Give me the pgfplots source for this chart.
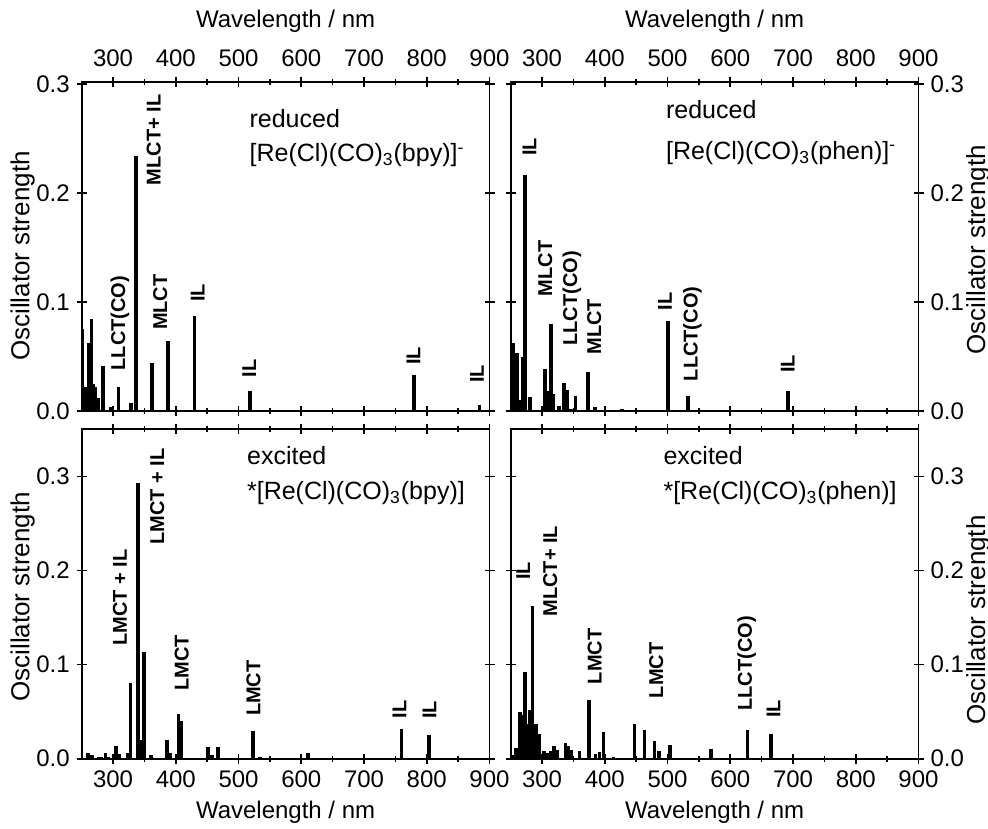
\documentclass[border=0pt]{standalone}
\usepackage{fontspec}
\setmainfont{Liberation Sans}
\usepackage{pgfplots}
\pgfplotsset{compat=1.18}
\pgfplotsset{
  panel/.style={
    scale only axis, width=203.9pt,
    xmin=250, xmax=900, ymin=0,
    xtick={300,400,...,900}, minor x tick num=1,
    ytick={0,0.1,0.2,0.3},
    /pgf/number format/assume math mode=true,
    yticklabel style={/pgf/number format/.cd, fixed, fixed zerofill, precision=1},
    xticklabel style={/pgf/number format/.cd, fixed, precision=0},
    tick align=center,
    major tick length=5pt, minor tick length=3pt,
    every tick/.style={black, line width=0.8pt},
    axis line style={line width=0.9pt},
    tick label style={font=\fontsize{12}{14}\selectfont},
    xlabel style={font=\fontsize{12}{14}\selectfont},
    clip mode=individual,
  },
  leftlab/.style={every axis y label/.style={at={(axis description cs:-0.145,#1)}, rotate=90, anchor=center, font=\fontsize{13}{15}\selectfont}},
  rightlab/.style={every axis y label/.style={at={(axis description cs:1.147,#1)}, rotate=90, anchor=center, font=\fontsize{13}{15}\selectfont}},
  bars/.style={ycomb, black, line width=1.8pt, mark=none},
}
\tikzset{
  lab/.style={font=\fontsize{10}{12}\selectfont\bfseries, rotate=90, anchor=west, inner sep=0pt},
  ann/.style={font=\fontsize{12.5}{15}\selectfont, anchor=base west, inner sep=0pt},
}
\begin{document}
\begin{tikzpicture}
\useasboundingbox (0,0) rectangle (494pt,414pt);

% ---------- top left: reduced bpy
\begin{axis}[panel, at={(40.85pt,208.5pt)}, anchor=south west, height=164.5pt, ymax=0.302,
  xticklabel pos=upper, xticklabel shift=1.5pt, xlabel style={yshift=2pt},
  leftlab=0.471, xlabel={Wavelength / nm}, ylabel={Oscillator strength}]
\addplot[bars] coordinates {
(251,0.075) (254,0.016) (257,0.022) (261,0.062) (265.5,0.084) (269,0.025) (272,0.022)
(277,0.012) (284,0.041) (297,0.004) (308.5,0.022) (329,0.007) (336.5,0.234) (348,0.001)
(362.5,0.044) (387.5,0.0645) (430,0.0875) (518.5,0.0186) (780,0.033) (884,0.0055)};
\node[lab] at (axis cs:311,0.037) {LLCT(CO)};
\node[lab] at (axis cs:365,0.207) {MLCT+ IL};
\node[lab] at (axis cs:375,0.074) {MLCT};
\node[lab] at (axis cs:435,0.100) {IL};
\node[lab] at (axis cs:517,0.0306) {IL};
\node[lab] at (axis cs:779,0.042) {IL};
\node[lab] at (axis cs:880,0.0257) {IL};
\node[ann] at (axis cs:517,0.2606) {reduced};
\node[ann] at (axis cs:517,0.2287) {[Re(Cl)(CO)\textsubscript{3}(bpy)]\textsuperscript{-}};
\end{axis}

% ---------- top right: reduced phen
\begin{axis}[panel, at={(255.35pt,208.5pt)}, anchor=south west, height=164.5pt, ymax=0.302,
  xticklabel pos=upper, xticklabel shift=1.5pt, xlabel style={yshift=2pt},
  yticklabel pos=right, rightlab=0.49, xlabel={Wavelength / nm}, ylabel={Oscillator strength}]
\addplot[bars] coordinates {
(251,0.035) (254,0.062) (259.6,0.053) (264,0.010) (268.6,0.050) (272.4,0.217) (281,0.013)
(291.6,0.001) (305,0.039) (310,0.018) (314,0.080) (318,0.016) (327,0.005) (335,0.026)
(339.6,0.019) (346,0.002) (353,0.0137) (373,0.0355) (384,0.004) (427.6,0.0015)
(500.6,0.0826) (533,0.0135) (691.6,0.0183)};
\node[lab] at (axis cs:280,0.234) {IL};
\node[lab] at (axis cs:305,0.105) {MLCT};
\node[lab] at (axis cs:347.6,0.0596) {LLCT(CO)};
\node[lab] at (axis cs:383,0.0514) {MLCT};
\node[lab] at (axis cs:496,0.092) {IL};
\node[lab] at (axis cs:539.6,0.027) {LLCT(CO)};
\node[lab] at (axis cs:691.5,0.0346) {IL};
\node[ann] at (axis cs:497,0.2685) {reduced};
\node[ann] at (axis cs:497,0.2312) {[Re(Cl)(CO)\textsubscript{3}(phen)]\textsuperscript{-}};
\end{axis}

% ---------- bottom left: excited bpy
\begin{axis}[panel, at={(40.85pt,34.65pt)}, anchor=south west, height=165pt, ymax=0.351,
  leftlab=0.49, xlabel={Wavelength / nm}, ylabel={Oscillator strength}]
\addplot[bars] coordinates {
(260.5,0.0064) (266,0.004) (276.5,0.002) (281,0.002) (288,0.0057) (293,0.002) (304.7,0.014)
(310,0.005) (324,0.006) (327.5,0.080) (339.3,0.293) (344,0.0198) (349.4,0.1134) (360.5,0.004)
(385.6,0.0198) (390.8,0.006) (404,0.048) (408,0.040) (420,0.001) (451.4,0.0128) (458,0.004)
(467,0.0128) (523,0.0294) (534,0.002) (610.4,0.006) (674.7,0.001) (760,0.032) (804,0.0255)};
\node[lab] at (axis cs:311,0.12) {LMCT + IL};
\node[lab] at (axis cs:370.6,0.227) {LMCT + IL};
\node[lab] at (axis cs:409.5,0.072) {LMCT};
\node[lab] at (axis cs:523.7,0.045) {LMCT};
\node[lab] at (axis cs:756.6,0.0425) {IL};
\node[lab] at (axis cs:804.5,0.042) {IL};
\node[ann] at (axis cs:513,0.313) {excited};
\node[ann] at (axis cs:513,0.276) {*[Re(Cl)(CO)\textsubscript{3}(bpy)]};
\end{axis}

% ---------- bottom right: excited phen
\begin{axis}[panel, at={(255.35pt,34.65pt)}, anchor=south west, height=165pt, ymax=0.351,
  yticklabel pos=right, rightlab=0.42, xlabel={Wavelength / nm}, ylabel={Oscillator strength}]
\addplot[bars] coordinates {
(253,0.004) (258.5,0.011) (265,0.050) (268.6,0.046) (272.4,0.0925) (276.6,0.037) (280.4,0.052)
(284.6,0.162) (290,0.037) (295.8,0.026) (303,0.008) (308,0.006) (314,0.008) (319,0.014)
(324.6,0.009) (337.4,0.017) (342,0.014) (346.5,0.009) (359.8,0.008) (374.7,0.062) (385,0.005)
(391.8,0.007) (398,0.028) (414,0.002) (447.3,0.0365) (463.3,0.031) (479.3,0.0187) (486.7,0.008)
(503.8,0.015) (568.9,0.0099) (627.6,0.031) (665,0.0266)};
\node[lab] at (axis cs:270,0.19) {IL};
\node[lab] at (axis cs:313,0.151) {MLCT+ IL};
\node[lab] at (axis cs:383.8,0.079) {LMCT};
\node[lab] at (axis cs:482,0.064) {LMCT};
\node[lab] at (axis cs:626,0.0506) {LLCT(CO)};
\node[lab] at (axis cs:669,0.043) {IL};
\node[ann] at (axis cs:493,0.313) {excited};
\node[ann] at (axis cs:493,0.276) {*[Re(Cl)(CO)\textsubscript{3}(phen)]};
\end{axis}
\end{tikzpicture}
\end{document}
